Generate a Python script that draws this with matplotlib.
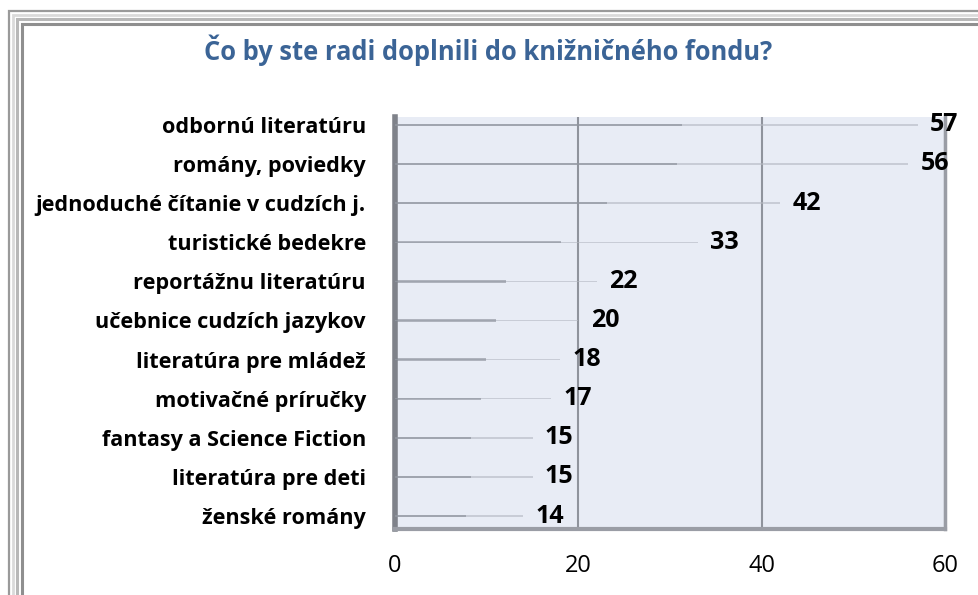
import matplotlib
matplotlib.use("Agg")
import matplotlib.pyplot as plt
from matplotlib.patches import Rectangle
import numpy as np

title = "Čo by ste radi doplnili do knižničného fondu?"
categories = [
    "odbornú literatúru",
    "romány, poviedky",
    "jednoduché čítanie v cudzích j.",
    "turistické bedekre",
    "reportážnu literatúru",
    "učebnice cudzích jazykov",
    "literatúra pre mládež",
    "motivačné príručky",
    "fantasy a Science Fiction",
    "literatúra pre deti",
    "ženské romány",
]
values = [57, 56, 42, 33, 22, 20, 18, 17, 15, 15, 14]
xticks = [0, 20, 40, 60]

W, H = 979, 595
fig = plt.figure(figsize=(W / 100, H / 100), dpi=100)
fig.patch.set_facecolor("white")

def px(x, y, w, h):
    return (x / W, 1 - (y + h) / H, w / W, h / H)

for off, col, lw in [(9, "#9a9a9a", 1.6), (13, "#dadada", 2.0), (17, "#b8b8b8", 2.2), (22, "#8f8f8f", 2.2)]:
    x0, y0, w0, h0 = px(off, off + 2, W + 40, H + 40)
    fig.patches.append(Rectangle((x0, y0), w0, h0, transform=fig.transFigure,
                                 fill=False, edgecolor=col, lw=lw, zorder=0))

left, right, top, bottom = 395, 945, 117, 529
ax = fig.add_axes([left / W, 1 - bottom / H, (right - left) / W, (bottom - top) / H])
ax.set_facecolor("#e8ecf5")

y = np.arange(len(categories))
vals = np.array(values, dtype=float)
# brush-like thin strokes: faint long stroke + darker short core
ax.barh(y, vals, height=0.035, color="#b4b8c2", alpha=0.6, zorder=3)
ax.barh(y, vals * 0.55, height=0.06, color="#80858f", alpha=0.55, zorder=4)

ax.set_xlim(0, 60)
ax.set_ylim(len(categories) - 1 + 0.33, -0.2)
ax.set_xticks(xticks)
ax.set_xticklabels([str(t) for t in xticks], fontsize=17, family="Open Sans")
ax.set_yticks(y)
ax.set_yticklabels(categories, fontsize=15.6, fontweight="bold", family="Open Sans")
ax.tick_params(axis="both", length=0)
ax.tick_params(axis="y", pad=21)
ax.tick_params(axis="x", pad=18)
ax.grid(axis="x", color="#8f939c", lw=1.5, zorder=1)
ax.set_axisbelow(True)

ax.spines["top"].set_visible(False)
ax.spines["left"].set_color("#7f828a")
ax.spines["left"].set_linewidth(4)
ax.spines["bottom"].set_color("#9a9da5")
ax.spines["bottom"].set_linewidth(3)
ax.spines["right"].set_color("#9a9da5")
ax.spines["right"].set_linewidth(2.5)

for yi, v in zip(y, values):
    ax.annotate(str(v), (v, yi), xytext=(9, 0), textcoords="offset points",
                ha="left", va="center", fontsize=18, fontweight="bold",
                family="Open Sans", color="black", zorder=6, annotation_clip=False)

fig.text(488 / W, 1 - 50 / H, title, ha="center", va="center", fontsize=18.4,
         fontweight="bold", family="Open Sans", color="#3b6496")

fig.savefig("out.png", dpi=100, facecolor="white")
